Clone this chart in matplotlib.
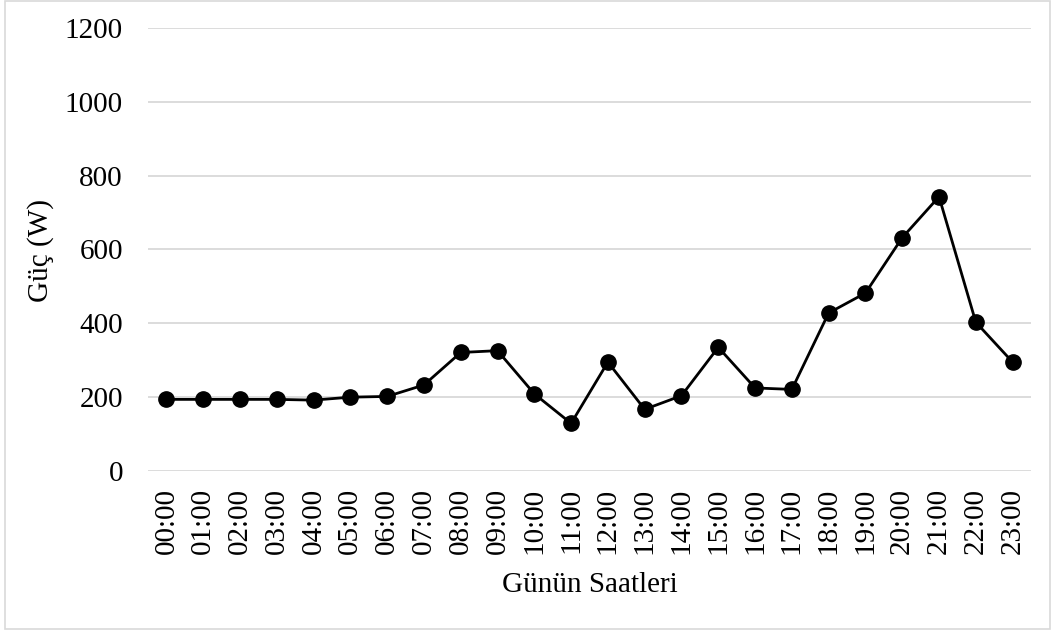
import matplotlib
matplotlib.use("Agg")
import matplotlib.pyplot as plt
from matplotlib.patches import Rectangle

hours = [f"{h:02d}:00" for h in range(24)]
power_w = [194, 194, 194, 194, 192, 200, 202, 233, 321, 326, 209, 129,
           295, 167, 204, 335, 225, 221, 428, 482, 632, 743, 403, 295]
y_ticks = [0, 200, 400, 600, 800, 1000, 1200]

plt.rcParams["font.family"] = ["Liberation Serif", "DejaVu Serif"]

W, H, DPI = 1056, 635, 100
FS = 21
fig = plt.figure(figsize=(W / DPI, H / DPI), dpi=DPI)
fig.patch.set_facecolor("white")

ax = fig.add_axes([148 / W, 1 - 471 / H, (1031 - 148) / W, (471 - 28) / H])

x = list(range(len(hours)))
ax.plot(x, power_w, color="black", linewidth=2.0, marker="o",
        markersize=11, markerfacecolor="black", markeredgecolor="black",
        zorder=3)

ax.set_xlim(-0.5, len(hours) - 0.5)
ax.set_ylim(0, 1200)
ax.set_yticks(y_ticks)
ax.set_yticklabels([str(v) for v in y_ticks], fontsize=FS)
ax.set_xticks(x)
ax.set_xticklabels(hours, rotation=90, fontsize=FS)
ax.tick_params(axis="both", length=0)
ax.tick_params(axis="y", pad=18)
ax.tick_params(axis="x", pad=12)

ax.grid(axis="y", color="#d9d9d9", linewidth=1.3, zorder=0)
ax.set_axisbelow(True)
for s in ax.spines.values():
    s.set_visible(False)

ax.set_xlabel("Günün Saatleri", fontsize=FS)
ax.xaxis.set_label_coords(0.5, -0.228)
ax.set_ylabel("Güç (W)", fontsize=FS)
ax.yaxis.set_label_coords(-0.106, 0.497)

fig.patches.append(Rectangle((5 / W, 6 / H), (1050 - 5) / W, (634 - 6) / H,
                             transform=fig.transFigure, fill=False,
                             edgecolor="#d9d9d9", linewidth=1.2))

fig.savefig("out.png", dpi=DPI, facecolor="white")
